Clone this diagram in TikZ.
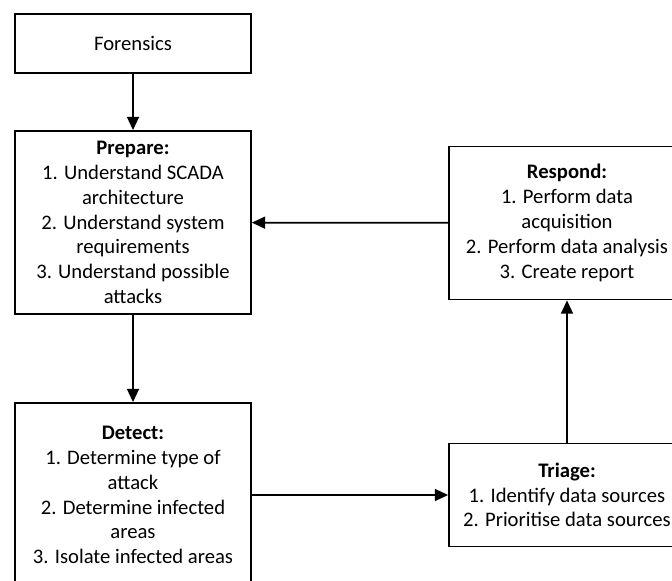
\documentclass[tikz,border=0pt]{standalone}
\usepackage{fontspec}
\setmainfont{Carlito}
\usepackage{tikz}
\usetikzlibrary{arrows.meta}

\begin{document}
\begin{tikzpicture}[x=0.75pt,y=-0.75pt]
\tikzstyle{every node}+=[inner sep=0pt]
\tikzstyle{stage}=[draw=black,line width=1.3pt,minimum width=177pt,align=center,
  font=\fontsize{15.5}{18.6}\selectfont]
\tikzstyle{link}=[draw=black,line width=1.3pt,-{Triangle[length=10pt,width=9pt]}]
\clip (0,0) rectangle (672,581);
\fill[white] (0,0) rectangle (672,581);
\node[stage,minimum height=44.25pt] (forensics) at (133,43.5) {Forensics};
\node[stage,minimum height=137.25pt] (prepare) at (133,222.5) {\textbf{Prepare:}\\1. Understand SCADA\\architecture\\2. Understand system\\requirements\\3. Understand possible\\attacks};
\node[stage,minimum height=138pt] (detect) at (133,495) {\textbf{Detect:}\\1. Determine type of\\attack\\2. Determine infected\\areas\\3. Isolate infected areas};
\node[stage,minimum height=114.75pt] (respond) at (567,223) {\textbf{Respond:}\\1. Perform data\\acquisition\\2. Perform data analysis\\3. Create report};
\node[stage,minimum height=77.25pt] (triage) at (567,495) {\textbf{Triage:}\\1. Identify data sources\\2. Prioritise data sources};
\draw[link] (forensics) -- (prepare);
\draw[link] (prepare) -- (detect);
\draw[link] (detect) -- (triage);
\draw[link] (triage) -- (respond);
\draw[link] (respond) -- (prepare);
\end{tikzpicture}
\end{document}
